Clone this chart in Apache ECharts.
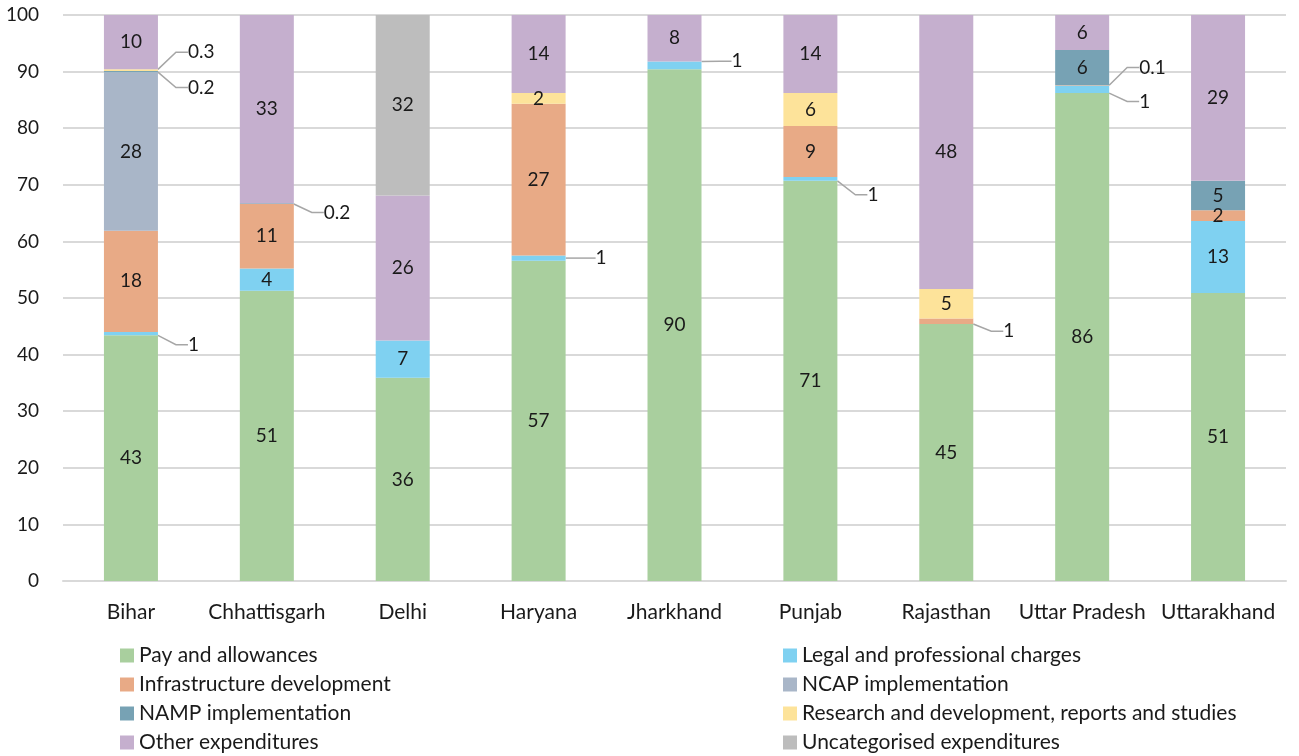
<!DOCTYPE html>
<html lang="en">
<head>
    <meta charset="UTF-8">
    <title>Expenditure share by state</title>
    <script src="https://cdn.jsdelivr.net/npm/echarts@6/dist/echarts.min.js"></script>
    <style>
        html, body { margin: 0; padding: 0; background: #fff; }
        #main { width: 1299px; height: 756px; }
    </style>
</head>
<body>
<div id="main"></div>
<script>
    var categories = ['Bihar', 'Chhattisgarh', 'Delhi', 'Haryana', 'Jharkhand', 'Punjab', 'Rajasthan', 'Uttar Pradesh', 'Uttarakhand'];
    var yTicks = [0, 10, 20, 30, 40, 50, 60, 70, 80, 90, 100];

    // share of spending, % (stacked bottom to top)
    var pay = [43.4, 51.3, 35.9, 56.6, 90.4, 70.7, 45.4, 86.2, 50.9];
    var legal = [0.6, 3.9, 6.6, 0.9, 1.4, 0.7, 0, 1.3, 12.7];
    var infra = [17.9, 11.4, 0, 26.8, 0, 9.0, 1.0, 0.1, 1.9];
    var ncap = [28.0, 0.2, 0, 0, 0, 0, 0, 0, 0];
    var namp = [0.2, 0, 0, 0, 0, 0, 0, 6.2, 5.2];
    var research = [0.3, 0, 0, 1.9, 0, 5.8, 5.2, 0, 0];
    var other = [9.6, 33.2, 25.6, 13.8, 8.2, 13.8, 48.4, 6.2, 29.3];
    var uncat = [0, 0, 31.9, 0, 0, 0, 0, 0, 0];

    var seriesDefs = [
        {name: 'Pay and allowances', data: pay, color: '#a9cf9e'},
        {name: 'Legal and professional charges', data: legal, color: '#7fd1f1'},
        {name: 'Infrastructure development', data: infra, color: '#e8aa86'},
        {name: 'NCAP implementation', data: ncap, color: '#a9b6c8'},
        {name: 'NAMP implementation', data: namp, color: '#77a2b4'},
        {name: 'Research and development, reports and studies', data: research, color: '#fde39a'},
        {name: 'Other expenditures', data: other, color: '#c5afce'},
        {name: 'Uncategorised expenditures', data: uncat, color: '#bdbdbd'}
    ];

    // vertical nudge of the outside (callout) labels, by series index -> category index
    var calloutDy = {
        1: {0: 11, 3: 0, 4: -4, 5: 16, 7: 12},
        2: {6: 10, 7: -18},
        3: {1: 9},
        4: {0: 16},
        5: {0: -18}
    };

    var FONT = 'Lato';

    function fmt(v) {
        return v >= 0.5 ? String(Math.round(v)) : v.toFixed(1);
    }

    var series = seriesDefs.map(function (s, si) {
        return {
            name: s.name,
            type: 'bar',
            stack: 'total',
            barWidth: 54,
            itemStyle: {color: s.color},
            label: {
                show: true,
                position: 'inside',
                color: '#1a1a1a',
                fontFamily: FONT,
                fontSize: 19,
                formatter: function (p) { return fmt(p.value); }
            },
            labelLayout: function (p) {
                var m = calloutDy[si];
                if (!m || m[p.dataIndex] === undefined) return {};
                return {
                    x: p.rect.x + p.rect.width + 30,
                    y: p.rect.y + p.rect.height / 2 + m[p.dataIndex],
                    align: 'left',
                    verticalAlign: 'middle'
                };
            },
            data: s.data.map(function (v, ci) {
                if (!v) return '-';
                var isCallout = calloutDy[si] && calloutDy[si][ci] !== undefined;
                if (isCallout) {
                    return {
                        value: v,
                        labelLine: {show: true, length2: 12, lineStyle: {color: '#a6a6a6', width: 1.5}}
                    };
                }
                return v;
            })
        };
    });

    var legendText = {fontFamily: FONT, fontSize: 21, color: '#1a1a1a'};
    var names = seriesDefs.map(function (s) { return s.name; });

    var myChart = echarts.init(document.getElementById('main'));
    var option = {
        animation: false,
        textStyle: {fontFamily: FONT},
        grid: {left: 63, right: 13, top: 15, bottom: 175},
        legend: [
            {
                orient: 'vertical', left: 120, top: 645, height: 130, itemGap: 8,
                padding: 0,
                itemWidth: 14, itemHeight: 14, icon: 'rect',
                textStyle: legendText,
                data: [names[0], names[2], names[4], names[6]]
            },
            {
                orient: 'vertical', left: 783, top: 645, height: 130, itemGap: 8,
                padding: 0,
                itemWidth: 14, itemHeight: 14, icon: 'rect',
                textStyle: legendText,
                data: [names[1], names[3], names[5], names[7]]
            }
        ],
        xAxis: {
            type: 'category',
            data: categories,
            axisLine: {lineStyle: {color: '#d9d9d9', width: 2}},
            axisTick: {show: false},
            axisLabel: {color: '#1a1a1a', fontSize: 21, fontFamily: FONT, margin: 21, interval: 0}
        },
        yAxis: {
            type: 'value',
            min: yTicks[0],
            max: yTicks[yTicks.length - 1],
            interval: 10,
            axisLine: {show: false},
            axisTick: {show: false},
            splitLine: {lineStyle: {color: '#d9d9d9', width: 2}},
            axisLabel: {color: '#1a1a1a', fontSize: 19, fontFamily: FONT, margin: 24}
        },
        series: series
    };
    myChart.setOption(option);
</script>
</body>
</html>
